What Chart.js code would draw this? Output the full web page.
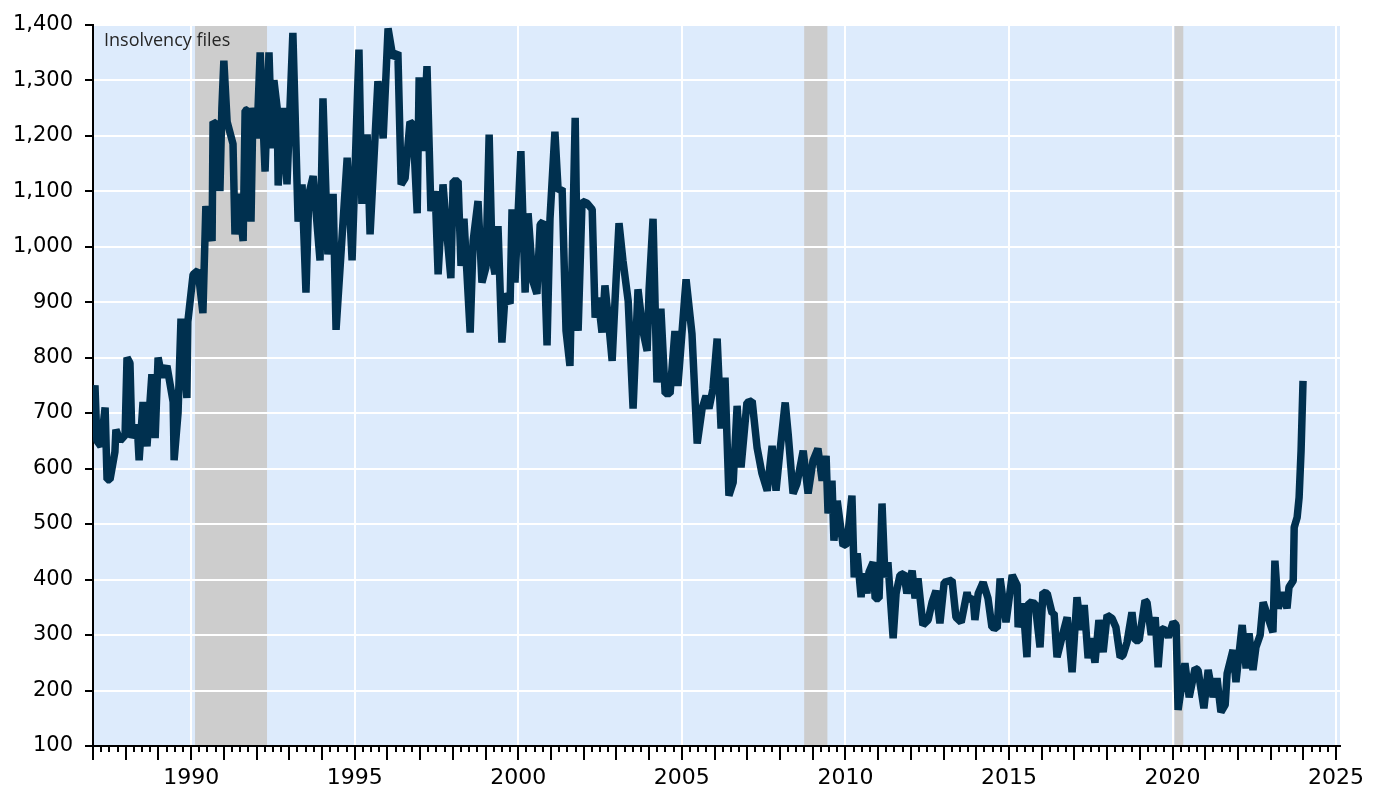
<!DOCTYPE html>
<html>
<head>
<meta charset="utf-8">
<script src="https://cdn.jsdelivr.net/npm/chart.js@4.4.0/dist/chart.umd.min.js"></script>
<style>
  html, body { margin: 0; padding: 0; background: #fff; }
  #wrap { width: 1376px; height: 793px; }
</style>
</head>
<body>
<div id="wrap"><canvas id="chart"></canvas></div>
<script>
// --- Data ---
const dates = [
  1987.00, 1987.06, 1987.12, 1987.24, 1987.37, 1987.43, 1987.52, 1987.67, 1987.70, 1987.83,
  1987.98, 1988.04, 1988.13, 1988.19, 1988.35, 1988.41, 1988.53, 1988.65, 1988.80, 1988.90,
  1988.99, 1989.11, 1989.26, 1989.45, 1989.48, 1989.60, 1989.69, 1989.87, 1989.90, 1990.06,
  1990.21, 1990.36, 1990.45, 1990.64, 1990.67, 1990.79, 1990.88, 1990.94, 1991.00, 1991.10,
  1991.28, 1991.34, 1991.43, 1991.59, 1991.65, 1991.74, 1991.83, 1991.89, 1992.01, 1992.11,
  1992.26, 1992.38, 1992.47, 1992.53, 1992.63, 1992.66, 1992.81, 1992.93, 1993.11, 1993.27,
  1993.39, 1993.51, 1993.60, 1993.73, 1993.94, 1994.03, 1994.18, 1994.34, 1994.43, 1994.77,
  1994.92, 1995.13, 1995.22, 1995.38, 1995.47, 1995.71, 1995.87, 1996.02, 1996.17, 1996.32,
  1996.42, 1996.54, 1996.69, 1996.78, 1996.91, 1996.97, 1997.09, 1997.21, 1997.33, 1997.46,
  1997.55, 1997.70, 1997.82, 1997.94, 1998.01, 1998.16, 1998.25, 1998.34, 1998.53, 1998.62,
  1998.77, 1998.89, 1999.01, 1999.11, 1999.20, 1999.29, 1999.38, 1999.50, 1999.60, 1999.75,
  1999.81, 1999.90, 2000.08, 2000.21, 2000.30, 2000.45, 2000.57, 2000.67, 2000.76, 2000.88,
  2000.97, 2001.12, 2001.22, 2001.34, 2001.46, 2001.58, 2001.74, 2001.83, 2001.95, 2002.10,
  2002.26, 2002.35, 2002.44, 2002.56, 2002.65, 2002.74, 2002.87, 2002.96, 2003.08, 2003.20,
  2003.36, 2003.51, 2003.66, 2003.81, 2003.94, 2004.00, 2004.12, 2004.24, 2004.36, 2004.49,
  2004.64, 2004.79, 2004.88, 2005.13, 2005.31, 2005.47, 2005.62, 2005.74, 2005.83, 2005.95,
  2006.08, 2006.20, 2006.32, 2006.44, 2006.57, 2006.69, 2006.81, 2006.99, 2007.15, 2007.30,
  2007.45, 2007.61, 2007.76, 2007.88, 2008.00, 2008.16, 2008.25, 2008.40, 2008.52, 2008.71,
  2008.86, 2009.01, 2009.16, 2009.29, 2009.41, 2009.47, 2009.59, 2009.65, 2009.75, 2009.93,
  2010.05, 2010.20, 2010.27, 2010.36, 2010.48, 2010.54, 2010.66, 2010.72, 2010.85, 2010.91,
  2011.03, 2011.12, 2011.21, 2011.30, 2011.46, 2011.55, 2011.67, 2011.79, 2011.88, 2012.04,
  2012.13, 2012.22, 2012.37, 2012.53, 2012.65, 2012.77, 2012.89, 2013.02, 2013.26, 2013.38,
  2013.54, 2013.72, 2013.78, 2013.90, 2013.96, 2014.06, 2014.21, 2014.36, 2014.48, 2014.64,
  2014.73, 2014.91, 2015.10, 2015.25, 2015.28, 2015.43, 2015.55, 2015.61, 2015.80, 2015.95,
  2016.04, 2016.17, 2016.32, 2016.38, 2016.47, 2016.62, 2016.78, 2016.93, 2017.08, 2017.20,
  2017.30, 2017.42, 2017.51, 2017.63, 2017.75, 2017.88, 2018.00, 2018.15, 2018.27, 2018.40,
  2018.49, 2018.61, 2018.76, 2018.86, 2018.98, 2019.16, 2019.22, 2019.35, 2019.47, 2019.56,
  2019.65, 2019.77, 2019.87, 2020.02, 2020.11, 2020.17, 2020.38, 2020.51, 2020.69, 2020.78,
  2020.96, 2021.09, 2021.24, 2021.36, 2021.48, 2021.61, 2021.67, 2021.85, 2021.94, 2022.13,
  2022.25, 2022.34, 2022.46, 2022.55, 2022.68, 2022.77, 2022.92, 2023.07, 2023.13, 2023.23,
  2023.38, 2023.50, 2023.56, 2023.69, 2023.72, 2023.81, 2023.87, 2023.93, 2023.99
];

const insolvencies = [
  700, 750, 650, 640, 710, 580, 580, 630, 670, 650,
  660, 800, 790, 655, 680, 615, 720, 640, 770, 655,
  800, 765, 785, 720, 615, 700, 870, 727, 865, 950,
  957, 880, 1073, 1010, 1225, 1220, 1100, 1250, 1335, 1225,
  1185, 1022, 1095, 1010, 1245, 1247, 1045, 1250, 1195, 1350,
  1135, 1350, 1177, 1300, 1250, 1110, 1250, 1112, 1385, 1045,
  1112, 917, 1095, 1127, 975, 1267, 986, 1095, 850, 1160,
  975, 1355, 1077, 1202, 1022, 1298, 1195, 1393, 1340, 1350,
  1112, 1123, 1225, 1220, 1060, 1305, 1172, 1325, 1064, 1100,
  950, 1112, 1022, 943, 1118, 1118, 965, 1050, 845, 1010,
  1082, 935, 962, 1202, 980, 950, 1037, 827, 915, 897,
  1067, 935, 1172, 917, 1060, 937, 915, 1040, 1045, 822,
  1050, 1207, 1100, 1105, 848, 785, 1232, 848, 1082, 1078,
  1067, 872, 908, 845, 930, 878, 794, 905, 1042, 975,
  902, 708, 923, 848, 812, 923, 1050, 755, 888, 735,
  735, 848, 749, 941, 843, 645, 708, 731, 708, 743,
  834, 672, 764, 551, 575, 713, 602, 719, 722, 638,
  591, 560, 641, 560, 632, 719, 663, 555, 573, 632,
  555, 614, 636, 578, 623, 519, 578, 470, 542, 461,
  465, 551, 404, 447, 368, 411, 375, 413, 431, 366,
  366, 537, 404, 431, 294, 375, 408, 411, 375, 416,
  366, 402, 318, 327, 359, 380, 321, 395, 399, 332,
  323, 377, 362, 368, 327, 375, 395, 366, 314, 312,
  402, 323, 408, 390, 314, 357, 260, 359, 357, 278,
  377, 375, 339, 339, 260, 296, 332, 233, 368, 309,
  354, 258, 294, 250, 327, 269, 336, 330, 314, 260,
  264, 287, 341, 290, 290, 362, 359, 300, 332, 242,
  312, 309, 296, 323, 318, 165, 249, 188, 240, 237,
  168, 237, 188, 222, 161, 174, 231, 273, 215, 318,
  240, 303, 237, 278, 300, 359, 332, 305, 434, 348,
  377, 348, 386, 398, 494, 512, 548, 632, 758
];

// recession periods [start, end] in decimal years
const recessions = [
  [1990.12, 1992.32],
  [2008.74, 2009.45],
  [2020.06, 2020.33]
];

const majorYears = [1990, 1995, 2000, 2005, 2010, 2015, 2020, 2025];
const X_MIN = 1987, X_MAX = 2025.12;
const Y_MIN = 100, Y_MAX = 1400, Y_STEP = 100;
const seriesLabel = 'Insolvency files';

const LINE_COLOR = '#00304f';
const PLOT_BG = '#ddebfc';
const BAND_COLOR = '#cdcdcd';

// --- Plugins ---
const backgroundPlugin = {
  id: 'plotBackground',
  beforeDraw(chart) {
    const { ctx, chartArea: a, scales: { x } } = chart;
    ctx.save();
    ctx.fillStyle = PLOT_BG;
    ctx.fillRect(a.left, a.top, a.right - a.left, a.bottom - a.top);
    ctx.fillStyle = BAND_COLOR;
    recessions.forEach(([s, e]) => {
      const x0 = x.getPixelForValue(s);
      const x1 = x.getPixelForValue(e);
      ctx.fillRect(x0, a.top, x1 - x0, a.bottom - a.top);
    });
    ctx.restore();
  }
};

const xTicksPlugin = {
  id: 'xTickMarks',
  afterDraw(chart) {
    const { ctx, chartArea: a, scales: { x } } = chart;
    ctx.save();
    ctx.strokeStyle = '#000';
    ctx.lineWidth = 2;
    x.ticks.forEach(t => {
      const px = Math.round(x.getPixelForValue(t.value));
      const len = Number.isInteger(t.value) ? 14 : 6;
      ctx.beginPath();
      ctx.moveTo(px, a.bottom);
      ctx.lineTo(px, a.bottom + len);
      ctx.stroke();
    });
    // label inside the plot
    ctx.fillStyle = '#262626';
    ctx.font = '18px "Open Sans"';
    ctx.textBaseline = 'middle';
    ctx.fillText(seriesLabel, a.left + 11, a.top + 16);
    ctx.restore();
  }
};

// --- Chart ---
new Chart(document.getElementById('chart'), {
  type: 'line',
  data: {
    datasets: [{
      label: seriesLabel,
      data: dates.map((d, i) => ({ x: d, y: insolvencies[i] })),
      borderColor: LINE_COLOR,
      borderWidth: 7.5,
      borderJoinStyle: 'bevel',
      pointRadius: 0,
      tension: 0,
      fill: false
    }]
  },
  options: {
    responsive: true,
    maintainAspectRatio: false,
    animation: false,
    layout: { padding: { top: 23, right: 36, left: 0, bottom: 0 } },
    plugins: {
      legend: { display: false },
      tooltip: { enabled: false }
    },
    scales: {
      x: {
        type: 'linear',
        min: X_MIN,
        max: X_MAX,
        afterBuildTicks(scale) {
          const ticks = [];
          for (let v = X_MIN; v <= 2025; v += 0.25) ticks.push({ value: v });
          scale.ticks = ticks;
        },
        afterFit(scale) {
          scale.height = 47;
          // let the layout padding alone decide the right edge
          scale.paddingLeft = 0;
          scale.paddingRight = 0;
        },
        ticks: {
          autoSkip: false,
          maxRotation: 0,
          padding: 19,
          color: '#000',
          font: { family: 'DejaVu Sans', size: 22 },
          callback: v => majorYears.includes(v) ? String(v) : ''
        },
        grid: {
          drawTicks: false,
          lineWidth: 2,
          color: ctx => (ctx.tick && majorYears.includes(ctx.tick.value)) ? '#ffffff' : 'rgba(0,0,0,0)'
        },
        border: { color: '#000', width: 2 }
      },
      y: {
        min: Y_MIN,
        max: Y_MAX,
        afterFit(scale) { scale.width = 93; },
        ticks: {
          stepSize: Y_STEP,
          padding: 12,
          color: '#000',
          font: { family: 'DejaVu Sans', size: 21 },
          callback: v => v.toLocaleString('en-US')
        },
        grid: {
          color: '#ffffff',
          lineWidth: 2,
          tickColor: '#000',
          tickLength: 8,
          tickWidth: 2
        },
        border: { color: '#000', width: 2 }
      }
    }
  },
  plugins: [backgroundPlugin, xTicksPlugin]
});
</script>
</body>
</html>
